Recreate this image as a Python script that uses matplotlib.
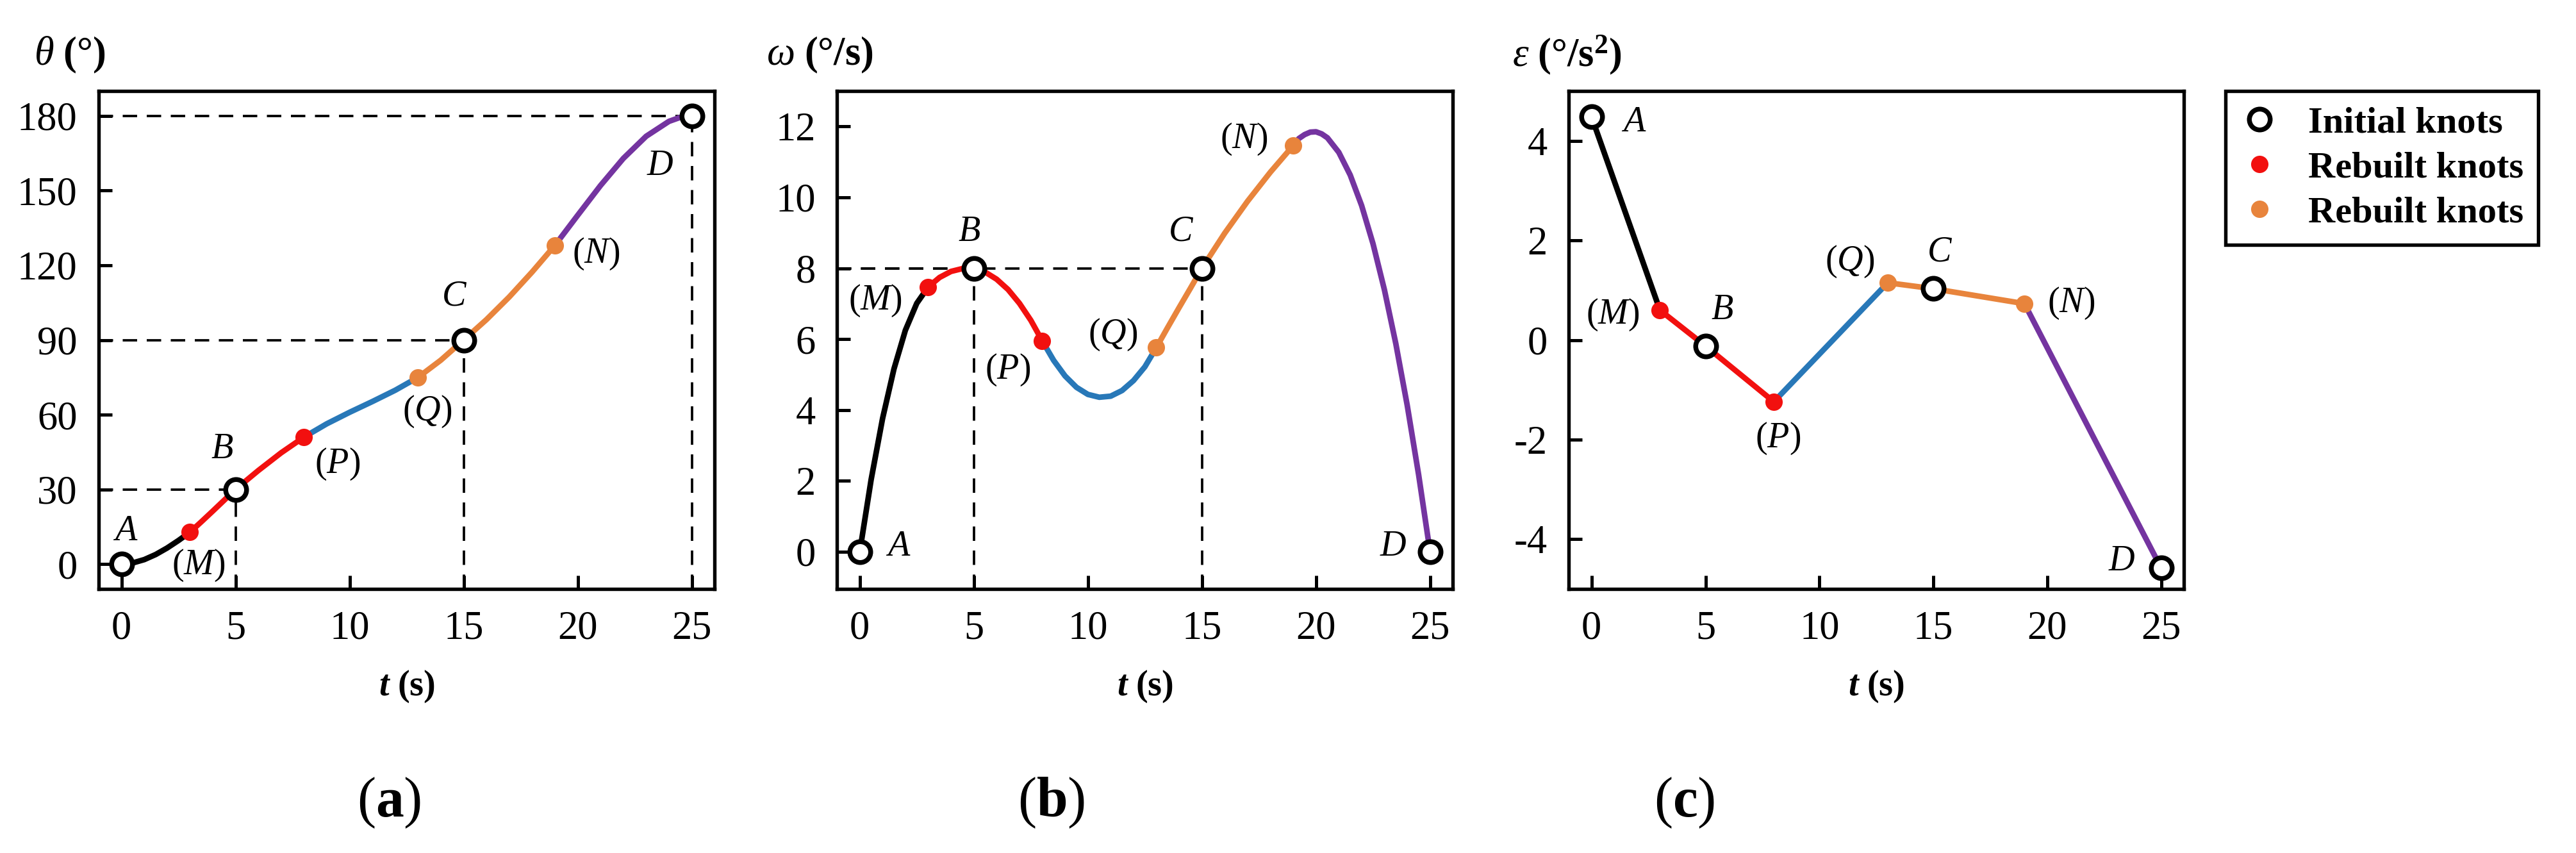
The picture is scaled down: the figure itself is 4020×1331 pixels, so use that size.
import numpy as np
import matplotlib.pyplot as plt
from matplotlib.lines import Line2D

plt.rcParams['font.family'] = ['Liberation Serif', 'DejaVu Serif']
plt.rcParams['mathtext.fontset'] = 'custom'
plt.rcParams['mathtext.rm'] = 'Liberation Serif'
plt.rcParams['mathtext.it'] = 'Liberation Serif:italic'
plt.rcParams['mathtext.bf'] = 'Liberation Serif:bold'
plt.rcParams['mathtext.bfit'] = 'Liberation Serif:italic:bold'
plt.rcParams['axes.unicode_minus'] = False

# knots (time in s)
knot_t = [0, 3, 5, 8, 13, 15, 19, 25]
knot_names = ['A', 'M', 'B', 'P', 'Q', 'C', 'N', 'D']
knot_kind = ['init', 'red', 'init', 'red', 'orange', 'init', 'orange', 'init']
seg_colors = ['black', 'red', 'red', 'blue', 'orange', 'orange', 'purple']

# angle theta (deg)
theta_t = [0, 0.5, 1, 1.5, 2, 2.5, 3, 3.5, 4, 4.5, 5, 6, 7, 8, 9, 10, 11, 12, 13,
           14, 15, 16, 17, 18, 19, 20, 21, 22, 23, 24, 24.5, 25]
theta_v = [0, 0.48, 1.81, 3.85, 6.46, 9.49, 12.8, 16.98, 21.27, 25.63, 30.0, 37.59,
           44.70, 51.0, 56.35, 60.96, 65.29, 69.82, 75.0, 81.91, 90.0, 98.2, 107.3,
           117.3, 128.0, 140.1, 152.05, 162.93, 171.82, 177.81, 179.44, 180.0]

# angular velocity omega (deg/s)
omega_t = [0, 0.5, 1, 1.5, 2, 2.5, 3, 3.5, 4, 4.5, 5, 5.5, 6, 6.5, 7, 7.5, 8, 8.5, 9,
           9.5, 10, 10.5, 11, 11.5, 12, 12.5, 13, 13.5, 14, 14.5, 15, 16, 17, 18, 19,
           19.25, 19.5, 19.75, 20, 20.25, 20.5, 21, 21.5, 22, 22.5, 23, 23.5, 24, 24.5, 25]
omega_v = [0, 2.04, 3.76, 5.16, 6.25, 7.01, 7.47, 7.74, 7.91, 7.99, 8.0, 7.89, 7.69,
           7.40, 7.01, 6.53, 5.95, 5.40, 4.96, 4.64, 4.44, 4.36, 4.39, 4.55, 4.83, 5.22,
           5.76, 6.33, 6.89, 7.44, 8.0, 8.99, 9.89, 10.71, 11.46, 11.66, 11.77, 11.84,
           11.85, 11.79, 11.68, 11.27, 10.63, 9.77, 8.69, 7.39, 5.87, 4.13, 2.17, 0]

# angular acceleration epsilon (deg/s^2), linear between knots
eps_v = [4.48, 0.60, -0.12, -1.24, 1.15, 1.03, 0.73, -4.58]

COL = {'black': '#000000', 'red': '#f2100f', 'blue': '#2878b8',
       'orange': '#e8843c', 'purple': '#7434a0'}

# label positions (data coords) for each panel
lab_a = {'A': (0.18, 13.2), 'M': (3.38, -0.5), 'B': (4.42, 46), 'P': (9.46, 40.2),
         'Q': (13.4, 61.2), 'C': (14.6, 107.5), 'N': (20.8, 124.6), 'D': (23.6, 160)}
lab_b = {'A': (1.7, 0.14), 'M': (0.68, 7.09), 'B': (4.8, 9.03), 'P': (6.49, 5.13),
         'Q': (11.1, 6.12), 'C': (14.07, 9.03), 'N': (16.85, 11.63), 'D': (23.39, 0.14)}
lab_c = {'A': (1.87, 4.37), 'M': (0.93, 0.51), 'B': (5.72, 0.60), 'P': (8.18, -1.98),
         'Q': (11.34, 1.57), 'C': (15.28, 1.77), 'N': (21.06, 0.74), 'D': (23.26, -4.45)}


def draw_panel(ax, t, v, labels, guides, hguide_to, ylim, yticks, title, tx):
    t = np.array(t, dtype=float)
    v = np.array(v, dtype=float)
    for i in range(len(knot_t) - 1):
        m = (t >= knot_t[i]) & (t <= knot_t[i + 1])
        ax.plot(t[m], v[m], color=COL[seg_colors[i]], lw=2.1, zorder=3,
                solid_capstyle='round')
    tl = list(t)
    kv = [v[tl.index(k)] for k in knot_t]

    ax.set_xlim(-1, 26)
    ax.set_ylim(*ylim)
    # dashed guides
    for i in guides:
        ax.plot([knot_t[i], knot_t[i]], [ylim[0], kv[i]], color='black', lw=0.9,
                dashes=(6, 4), zorder=1)
    for i in hguide_to:
        ax.plot([-1, knot_t[i]], [kv[i], kv[i]], color='black', lw=0.9,
                dashes=(6, 4), zorder=1)

    for i, k in enumerate(knot_kind):
        if k == 'init':
            ax.plot(knot_t[i], kv[i], 'o', ms=7.8, mfc='white', mec='black',
                    mew=1.8, zorder=6)
        else:
            ax.plot(knot_t[i], kv[i], 'o', ms=6.5, mfc=COL[k], mec=COL[k],
                    mew=0, zorder=5)
        name = knot_names[i]
        s = r'$%s$' % name if k == 'init' else r'$(%s)$' % name
        x, y = labels[name]
        ax.text(x, y, s, fontsize=13.5, ha='center', va='center', zorder=7)

    ax.set_xticks([0, 5, 10, 15, 20, 25])
    ax.set_yticks(yticks)
    ax.tick_params(direction='in', length=5, width=1.2, pad=8, labelsize=15,
                   top=False, right=False)
    for sp in ax.spines.values():
        sp.set_linewidth(1.3)
    ax.set_xlabel(r'$\mathbfit{t}\ \mathbf{(s)}$', fontsize=13.5, labelpad=8)
    ax.text(tx, 1.072, title, transform=ax.transAxes, fontsize=15,
            ha='left', va='center')


fig = plt.figure(figsize=(13.4, 4.4367), dpi=300)
bottom, height = 0.3095, 0.5838
ax1 = fig.add_axes([0.0383, bottom, 0.2391, height])
ax2 = fig.add_axes([0.3249, bottom, 0.2391, height])
ax3 = fig.add_axes([0.6090, bottom, 0.2388, height])

draw_panel(ax1, theta_t, theta_v, lab_a, [2, 5, 7], [2, 5, 7], (-10, 190),
           [0, 30, 60, 90, 120, 150, 180], r'$\theta\ \mathbf{(°)}$', -0.105)
draw_panel(ax2, omega_t, omega_v, lab_b, [2, 5], [2, 5], (-1.05, 13.0),
           [0, 2, 4, 6, 8, 10, 12], r'$\omega\ \mathbf{(°/s)}$', -0.115)
draw_panel(ax3, knot_t, eps_v, lab_c, [], [], (-5, 5),
           [-4, -2, 0, 2, 4], r'$\varepsilon\ \mathbf{(°/s^2)}$', -0.092)

for x, s in [(0.151, 'a'), (0.408, 'b'), (0.654, 'c')]:
    fig.text(x, 0.0586, r'$(\mathbf{%s})$' % s, fontsize=21, ha='center', va='center')

handles = [
    Line2D([], [], ls='none', marker='o', ms=7.8, mfc='white', mec='black', mew=1.8,
           label='Initial knots'),
    Line2D([], [], ls='none', marker='o', ms=6.5, mfc=COL['red'], mec=COL['red'],
           mew=0, label='Rebuilt knots'),
    Line2D([], [], ls='none', marker='o', ms=6.5, mfc=COL['orange'], mec=COL['orange'],
           mew=0, label='Rebuilt knots'),
]
leg = fig.legend(handles=handles, loc='upper left', bbox_to_anchor=(0.864, 0.8933),
                 frameon=True, fancybox=False, edgecolor='black', framealpha=1,
                 prop={'weight': 'bold', 'size': 14}, handlelength=1.0,
                 handletextpad=0.8, labelspacing=0.3, borderpad=0.4,
                 borderaxespad=0)
leg.get_frame().set_linewidth(1.3)

fig.savefig('out.png', dpi=300)
